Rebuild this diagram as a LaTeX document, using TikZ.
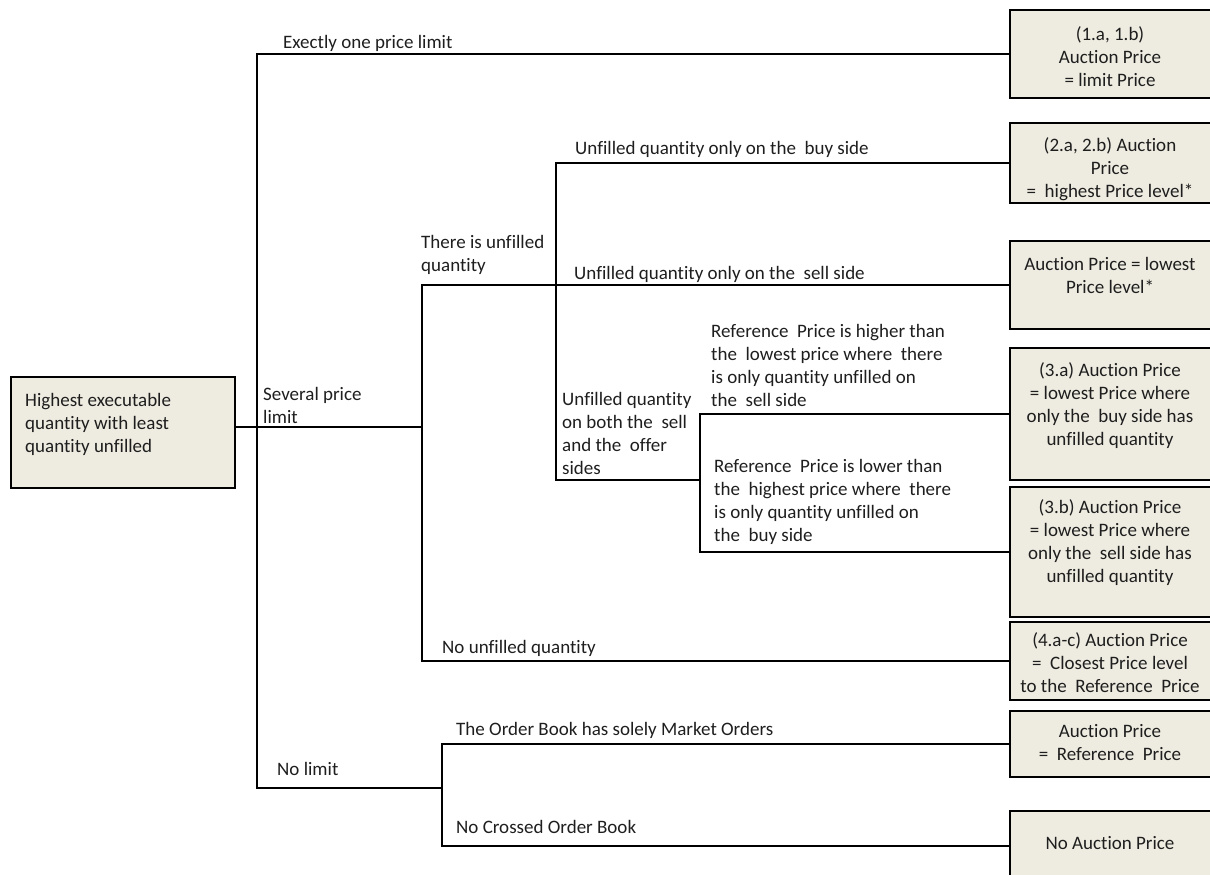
\documentclass[tikz,border=0pt]{standalone}
\usepackage{fontspec}
\setmainfont[Ligatures=NoCommon]{Carlito}
\definecolor{boxfill}{HTML}{EEEBE0}
\definecolor{txt}{HTML}{1E1E1E}
\begin{document}
\begin{tikzpicture}[x=1pt,y=-1pt,
  box/.style={draw=black, line width=2.4pt, fill=boxfill, rectangle, inner sep=0pt},
  conn/.style={draw=black, line width=2pt},
  lbl/.style={anchor=north west, inner sep=0pt, align=left, text=txt, font=\fontsize{19}{23}\selectfont},
  btxt/.style={anchor=north, inner sep=0pt, align=center, text=txt, font=\fontsize{19}{23}\selectfont}]
\useasboundingbox (0,0) rectangle (1210,875);

% boxes
\node[box, minimum width=224pt, minimum height=111pt] (root) at (123,432.5) {};
\node[box, minimum width=204pt, minimum height=88pt] (b1) at (1112,54) {};
\node[box, minimum width=204pt, minimum height=80pt] (b2) at (1112,163) {};
\node[box, minimum width=204pt, minimum height=88pt] (b3) at (1112,285) {};
\node[box, minimum width=204pt, minimum height=132pt] (b4) at (1112,414) {};
\node[box, minimum width=204pt, minimum height=130pt] (b5) at (1112,552) {};
\node[box, minimum width=204pt, minimum height=78pt] (b6) at (1112,661) {};
\node[box, minimum width=204pt, minimum height=66pt] (b7) at (1112,744) {};
\node[box, minimum width=204pt, minimum height=70pt] (b8) at (1112,846) {};

% junctions
\coordinate (j0) at (257,427);
\coordinate (jbot) at (257,788);
\coordinate (k0) at (422,427);
\coordinate (kbot) at (422,661);
\coordinate (m) at (556,480);
\coordinate (n) at (700,480);
\coordinate (nbot) at (700,552);
\coordinate (e) at (442,788);
\coordinate (ebot) at (442,846);

% connectors
\draw[conn] (root.east |- j0) -- (j0);
\draw[conn] (b1.west) -| (jbot) -- (e);
\draw[conn] (j0) -- (k0);
\draw[conn] (b3.west) -| (kbot) -- (b6.west);
\draw[conn] (b2.west) -| (m) -- (n);
\draw[conn] (b4.west) -| (nbot) -- (b5.west);
\draw[conn] (b7.west) -| (ebot) -- (b8.west);

% box texts
\node[lbl] (troot) at (25,393) {Highest executable\\quantity with least\\quantity unfilled};
\node[btxt] (t1) at (1110,26) {(1.a, 1.b)\\Auction Price\\= limit Price};
\node[btxt] (t2) at (1110,137) {(2.a, 2.b) Auction\\Price\\=\ \ highest Price level*};
\node[btxt] (t3) at (1110,257) {Auction Price = lowest\\Price level*};
\node[btxt] (t4) at (1110,362) {(3.a) Auction Price\\= lowest Price where\\only the\ \ buy side has\\unfilled quantity};
\node[btxt] (t5) at (1110,499) {(3.b) Auction Price\\= lowest Price where\\only the\ \ sell side has\\unfilled quantity};
\node[btxt] (t6) at (1110,632) {(4.a-c) Auction Price\\=\ \ Closest Price level\\to the\ \ Reference\ \ Price};
\node[btxt] (t7) at (1110,724) {Auction Price\\=\ \ Reference\ \ Price};
\node[btxt] (t8) at (1110,836) {No Auction Price};

% branch labels
\node[lbl] (l1) at (283,35) {Exectly one price limit};
\node[lbl] (l2) at (263,387) {Several price\\limit};
\node[lbl] (l3) at (421,235) {There is unfilled\\quantity};
\node[lbl] (l4) at (575,141) {Unfilled quantity only on the\ \ buy side};
\node[lbl] (l5) at (574,266) {Unfilled quantity only on the\ \ sell side};
\node[lbl] (l6) at (711,324) {Reference\ \ Price is higher than\\the\ \ lowest price where\ \ there\\is only quantity unfilled on\\the\ \ sell side};
\node[lbl] (l7) at (562,392) {Unfilled quantity\\on both the\ \ sell\\and the\ \ offer\\sides};
\node[lbl] (l8) at (714,459) {Reference\ \ Price is lower than\\the\ \ highest price where\ \ there\\is only quantity unfilled on\\the\ \ buy side};
\node[lbl] (l9) at (442,640) {No unfilled quantity};
\node[lbl] (l10) at (277,762) {No limit};
\node[lbl] (l11) at (456,722) {The Order Book has solely Market Orders};
\node[lbl] (l12) at (456,820) {No Crossed Order Book};
\end{tikzpicture}
\end{document}
